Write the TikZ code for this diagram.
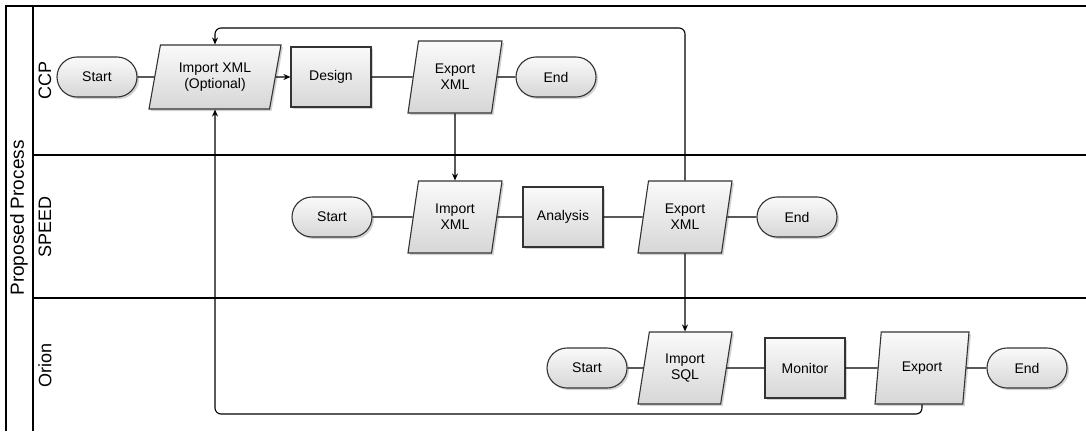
\documentclass[tikz,border=0pt]{standalone}
\usepackage{fontspec}
\setmainfont{Liberation Sans}
\usetikzlibrary{shapes.geometric,shadows,arrows.meta}

\tikzset{
  lane/.style={line width=1.1pt},
  flow/.style={line width=1.1pt},
  shapefill/.style={draw=black!80, line width=1.1pt, top color=gray!4, bottom color=gray!32,
    drop shadow={opacity=0.35, shadow xshift=2pt, shadow yshift=-2pt},
    font=\fontsize{14}{16}\selectfont, align=center},
  terminal/.style={shapefill, rounded corners=20pt, minimum width=80pt, minimum height=40pt},
  process/.style={shapefill, minimum width=80pt, minimum height=60pt},
  inout/.style={shapefill, trapezium, trapezium left angle=72, trapezium right angle=108,
    trapezium stretches body=true, inner xsep=1pt, minimum width=94pt, minimum height=72pt},
  lanelabel/.style={rotate=90, font=\fontsize{18}{20}\selectfont}
}

\begin{document}
\begin{tikzpicture}[x=1pt, y=-1pt, >={Stealth[length=7pt,width=6pt]}]
    \useasboundingbox (0,0) rectangle (1086,431);

    % couloirs
    \draw[lane] (6,431) -- (6,6) -- (1086,6);
    \draw[lane] (33,6) -- (33,431);
    \draw[lane] (33,155) -- (1086,155);
    \draw[lane] (33,298) -- (1086,298);
    \node[lanelabel, font=\fontsize{19}{21}\selectfont] (proc) at (19,218) {Proposed Process};
    \node[lanelabel] (lccp) at (45,80) {CCP};
    \node[lanelabel] (lspeed) at (45,227) {SPEED};
    \node[lanelabel] (lorion) at (45,365) {Orion};

    % CCP
    \node[terminal] (cstart) at (97,77) {Start};
    \node[inout, minimum width=132pt, minimum height=64pt] (cimp) at (215,77) {Import XML\\(Optional)};
    \node[process] (cdes) at (331,77) {Design};
    \node[inout] (cexp) at (455,77) {Export\\XML};
    \node[terminal] (cend) at (556,77) {End};

    % SPEED
    \node[terminal] (sstart) at (332,217) {Start};
    \node[inout] (simp) at (455,217) {Import\\XML};
    \node[process] (sana) at (563,217) {Analysis};
    \node[inout] (sexp) at (685,217) {Export\\XML};
    \node[terminal] (send) at (797,217) {End};

    % Orion
    \node[terminal] (ostart) at (587,368) {Start};
    \node[inout] (oimp) at (685,368) {Import\\SQL};
    \node[process] (omon) at (805,368) {Monitor};
    \node[inout] (oexp) at (922,368) {Export};
    \node[terminal] (oend) at (1027,368) {End};

    % liaisons
    \draw[flow] (cstart) -- (cimp);
    \draw[flow,->] (cimp) -- (cdes);
    \draw[flow] (cdes) -- (cexp);
    \draw[flow] (cexp) -- (cend);
    \draw[flow] (sstart) -- (simp);
    \draw[flow] (simp) -- (sana);
    \draw[flow] (sana) -- (sexp);
    \draw[flow] (sexp) -- (send);
    \draw[flow] (ostart) -- (oimp);
    \draw[flow] (oimp) -- (omon);
    \draw[flow] (omon) -- (oexp);
    \draw[flow] (oexp) -- (oend);
    \draw[flow,->] (cexp.south) -- (simp.north);
    \draw[flow,->] (sexp.south) -- (oimp.north);

    % retours
    \coordinate (ctop) at (215,28);
    \coordinate (cbot) at (215,414);
    \draw[flow,->,rounded corners=6pt] (sexp.north) |- (ctop) -- (cimp.north);
    \draw[flow,->,rounded corners=6pt] (oexp.south) |- (cbot) -- (cimp.south);
\end{tikzpicture}
\end{document}
